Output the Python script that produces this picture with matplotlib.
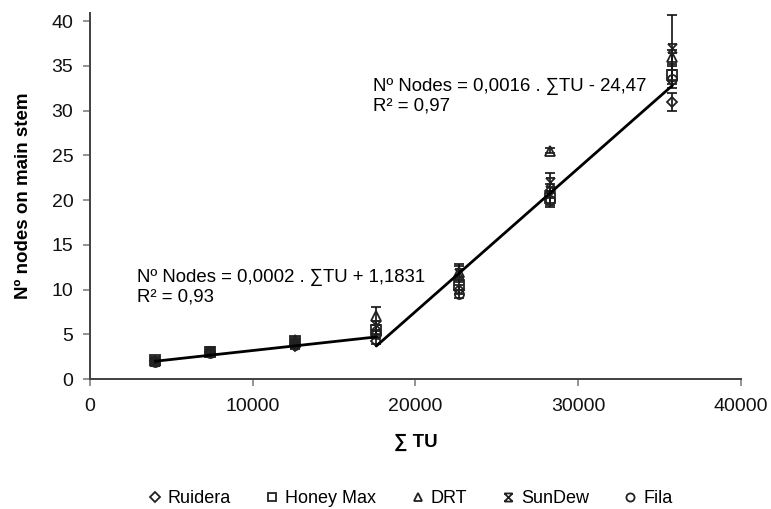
import matplotlib
matplotlib.use("Agg")
import matplotlib.pyplot as plt
from matplotlib.path import Path
import numpy as np

plt.rcParams['font.family'] = ['Liberation Sans', 'DejaVu Sans']

# ---- data ----
tu = [4000, 7400, 12600, 17600, 22700, 28300, 35800]
series_names = ["Ruidera", "Honey Max", "DRT", "SunDew", "Fila"]
ruidera = [2.0, 3.0, 3.7, 4.3, 10.0, 21.0, 31.0]
honey_max = [2.1, 3.0, 4.2, 5.5, 10.5, 20.2, 34.0]
drt = [2.0, 3.0, 4.4, 7.0, 12.0, 25.5, 36.0]
sundew = [2.0, 3.1, 4.0, 6.0, 11.8, 22.0, 37.0]
fila = [1.9, 2.9, 3.8, 5.0, 9.5, 20.0, 33.5]
err_ruidera = [0.2, 0.2, 0.3, 0.4, 0.5, 0.8, 1.0]
err_honey_max = [0.2, 0.2, 0.3, 0.5, 0.6, 0.8, 1.0]
err_drt = [0.2, 0.2, 0.3, 1.0, 0.6, 0.3, 0.8]
err_sundew = [0.2, 0.2, 0.4, 0.5, 1.0, 1.0, 3.7]
err_fila = [0.2, 0.2, 0.3, 0.4, 0.5, 0.8, 1.0]

# trend lines: (slope, intercept, x_start, x_end)
fit1 = (0.0002, 1.1831, 4000, 17600)
fit2 = (0.0016, -24.47, 17600, 35800)
eq1 = ["Nº Nodes = 0,0002 . ∑TU + 1,1831", "R² = 0,93"]
eq2 = ["Nº Nodes = 0,0016 . ∑TU - 24,47", "R² = 0,97"]

xticks = [0, 10000, 20000, 30000, 40000]
yticks = [0, 5, 10, 15, 20, 25, 30, 35, 40]

# custom SunDew marker: X with top/bottom bars
sun_verts = [(-1, -1), (1, 1), (-1, 1), (1, -1), (-1, 1), (1, 1), (-1, -1), (1, -1)]
sun_codes = [Path.MOVETO, Path.LINETO, Path.MOVETO, Path.LINETO,
             Path.MOVETO, Path.LINETO, Path.MOVETO, Path.LINETO]
sun_marker = Path(sun_verts, sun_codes)

markers = ['D', 's', '^', sun_marker, 'o']
msizes = [5.5, 6.5, 6.5, 6.5, 6.5]
values = [ruidera, honey_max, drt, sundew, fila]
errors = [err_ruidera, err_honey_max, err_drt, err_sundew, err_fila]

fig = plt.figure(figsize=(7.71, 5.09), dpi=100)
ax = fig.add_axes([90/771, (509-379)/509, (740.8-90)/771, (379-13)/509])

handles = []
for name, vals, errs, mk, ms in zip(series_names, values, errors, markers, msizes):
    ax.errorbar(tu, vals, yerr=errs, fmt='none', ecolor='#111111', elinewidth=1.2,
                capsize=3.5, capthick=1.2, zorder=2)
    h, = ax.plot(tu, vals, linestyle='none', marker=mk, markersize=ms,
                 markerfacecolor='none', markeredgecolor='#222222',
                 markeredgewidth=1.3, label=name, zorder=3)
    handles.append(h)

for slope, icpt, x0, x1 in (fit1, fit2):
    xs = np.array([x0, x1])
    ax.plot(xs, slope * xs + icpt, color='black', linewidth=2.0, zorder=4,
            solid_capstyle='round')

efs = 13.4
ax.text(2890, 11.3, eq1[0], fontsize=efs, va='center', ha='left')
ax.text(2890, 9.2, eq1[1], fontsize=efs, va='center', ha='left')
ax.text(17400, 32.7, eq2[0], fontsize=efs, va='center', ha='left')
ax.text(17400, 30.5, eq2[1], fontsize=efs, va='center', ha='left')

ax.set_xlim(0, 40000)
ax.set_ylim(0, 40.9)
ax.set_xticks(xticks)
ax.set_yticks(yticks)
ax.tick_params(axis='both', direction='out', length=5, width=1.2,
               color='#808080', labelsize=14, labelcolor='#111111')
ax.tick_params(axis='x', pad=9)
ax.tick_params(axis='y', pad=7)
for s in ['top', 'right']:
    ax.spines[s].set_visible(False)
for s in ['left', 'bottom']:
    ax.spines[s].set_color('#404040')
    ax.spines[s].set_linewidth(1.4)

ax.set_xlabel("∑ TU", fontsize=13.5, fontweight='bold', labelpad=13)
ax.set_ylabel("Nº nodes on main stem", fontsize=13.5, fontweight='bold', labelpad=14)

fig.legend(handles=handles, loc='center', bbox_to_anchor=(410/771, 0.02),
           ncol=5, frameon=False, fontsize=13, handlelength=0.8,
           handletextpad=0.3, columnspacing=1.9, markerscale=0.9)

fig.savefig("out.png", dpi=100)
